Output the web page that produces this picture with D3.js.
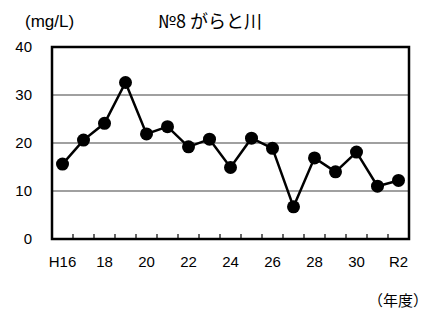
<!DOCTYPE html>
<html>
<head>
<meta charset="utf-8">
<script src="https://cdn.jsdelivr.net/npm/d3@7"></script>
<style>
  body { margin: 0; background: #fff; }
  text { font-family: "Liberation Sans", Arial, "Noto Sans CJK JP", sans-serif; fill: #000; }
  .jp { font-family: "Noto Sans CJK JP", sans-serif; }
</style>
</head>
<body>
<svg id="chart" width="429" height="310"></svg>
<script>
var years = ["H16","H17","H18","H19","H20","H21","H22","H23","H24","H25","H26","H27","H28","H29","H30","H31","R2"];
var yearLabels = ["H16","","18","","20","","22","","24","","26","","28","","30","","R2"];
var values = [15.6, 20.6, 24.1, 32.6, 21.9, 23.4, 19.2, 20.8, 14.9, 21.0, 18.9, 6.7, 16.9, 14.0, 18.1, 11.0, 12.2];
var yTicks = [0, 10, 20, 30, 40];

function drawChart() {
    var svg = d3.select("svg#chart"),
        pLeft = 52, pRight = 409, pTop = 47, pBottom = 239;

    var x = d3.scaleBand().domain(years).range([pLeft, pRight]).padding(0);
    var y = d3.scaleLinear().domain([0, 40]).range([pBottom, pTop]);
    var cx = (d, i) => x(years[i]) + x.bandwidth() / 2;

    // gridlines
    svg.selectAll("line.grid")
        .data(yTicks.filter(d => d > 0 && d < 40))
        .enter()
        .append("line")
        .attr("x1", pLeft).attr("x2", pRight)
        .attr("y1", d => y(d)).attr("y2", d => y(d))
        .attr("stroke", "#808080")
        .attr("stroke-width", 1.3);

    // tick marks between categories
    svg.selectAll("line.tick")
        .data(years.slice(1))
        .enter()
        .append("line")
        .attr("x1", d => x(d)).attr("x2", d => x(d))
        .attr("y1", pBottom).attr("y2", pBottom - 5)
        .attr("stroke", "#000")
        .attr("stroke-width", 1.2);

    // frame
    svg.append("rect")
        .attr("x", pLeft).attr("y", pTop)
        .attr("width", pRight - pLeft).attr("height", pBottom - pTop)
        .attr("fill", "none")
        .attr("stroke", "#000")
        .attr("stroke-width", 2.5);

    // y labels
    svg.selectAll("text.ylab")
        .data(yTicks)
        .enter()
        .append("text")
        .attr("x", 32)
        .attr("y", d => y(d) + 5)
        .attr("text-anchor", "end")
        .style("font-size", "15px")
        .text(d => d);

    // x labels
    svg.selectAll("text.xlab")
        .data(years)
        .enter()
        .append("text")
        .attr("x", (d, i) => cx(d, i))
        .attr("y", 267)
        .attr("text-anchor", "middle")
        .style("font-size", "15px")
        .text((d, i) => yearLabels[i]);

    // line
    var line = d3.line()
        .x((d, i) => cx(d, i))
        .y(d => y(d));

    svg.append("path")
        .datum(values)
        .attr("d", line)
        .attr("fill", "none")
        .attr("stroke", "#000")
        .attr("stroke-width", 2.5);

    svg.selectAll("circle")
        .data(values)
        .enter()
        .append("circle")
        .attr("cx", (d, i) => cx(d, i))
        .attr("cy", d => y(d))
        .attr("r", 6.5)
        .attr("fill", "#000");

    // titles
    svg.append("text")
        .attr("x", 25).attr("y", 27)
        .style("font-size", "17px")
        .text("(mg/L)");

    svg.append("text")
        .attr("class", "jp")
        .attr("x", 210).attr("y", 28)
        .attr("text-anchor", "middle")
        .style("font-size", "18px")
        .text("№8 がらと川");

    svg.append("text")
        .attr("class", "jp")
        .attr("x", 428).attr("y", 306)
        .attr("text-anchor", "end")
        .style("font-size", "15px")
        .text("（年度）");
}

drawChart();
</script>
</body>
</html>
